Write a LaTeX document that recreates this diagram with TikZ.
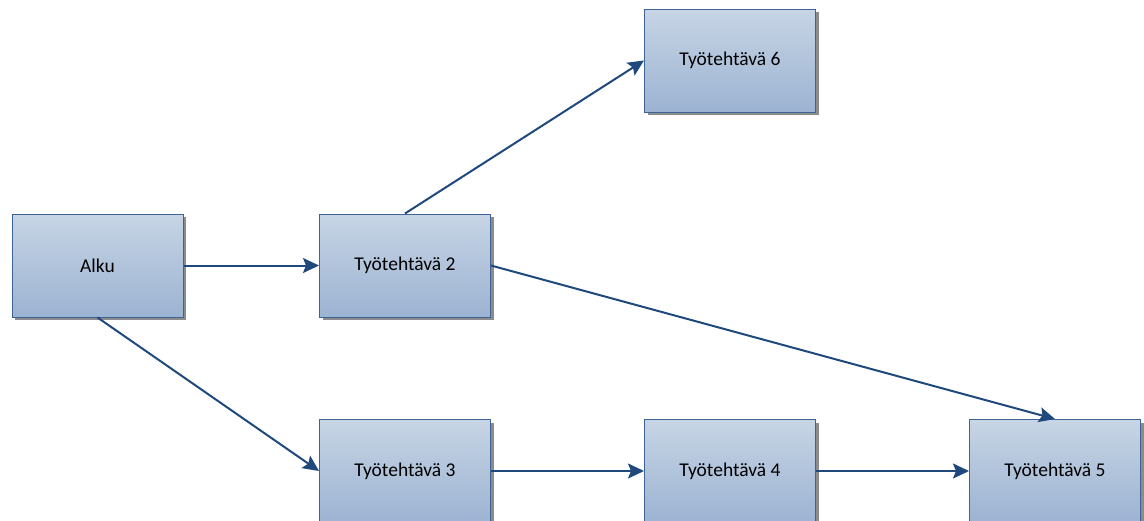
\documentclass[tikz,border=0pt]{standalone}
\usepackage{fontspec}
\setmainfont{Carlito}
\usetikzlibrary{arrows.meta,shadows}
\definecolor{boxtop}{HTML}{C7D5E5}
\definecolor{boxbot}{HTML}{9CB3D2}
\definecolor{boxline}{HTML}{3E6496}
\definecolor{arrowcol}{HTML}{1F497D}
\tikzset{
  task/.style={draw=boxline, line width=1pt, top color=boxtop, bottom color=boxbot,
    minimum width=171pt, minimum height=103pt, inner sep=0pt,
    font=\fontsize{19.5}{23}\selectfont,
    drop shadow={shadow xshift=3pt, shadow yshift=-3pt, fill=black!45, opacity=1}},
  flow/.style={draw=arrowcol, line width=2pt,
    -{Stealth[length=16pt,width=15pt,inset=3pt]}}
}
\begin{document}
\begin{tikzpicture}[x=1pt,y=-1pt]
  \useasboundingbox (0,0) rectangle (1144,520);
  \node[task] (alku) at (97.5,265.5) {Alku};
  \node[task] (t2) at (405,265.5) {Työtehtävä 2};
  \node[task] (t6) at (730,60.5) {Työtehtävä 6};
  \node[task] (t3) at (405,471) {Työtehtävä 3};
  \node[task] (t4) at (730,471) {Työtehtävä 4};
  \node[task] (t5) at (1055,471) {Työtehtävä 5};
  \draw[flow] (alku.east) -- (t2.west);
  \draw[flow] (alku.south) -- (t3.west);
  \draw[flow] (t2.north) -- (t6.west);
  \draw[flow] (t2.east) -- (t5.north);
  \draw[flow] (t3.east) -- (t4.west);
  \draw[flow] (t4.east) -- (t5.west);
\end{tikzpicture}
\end{document}
